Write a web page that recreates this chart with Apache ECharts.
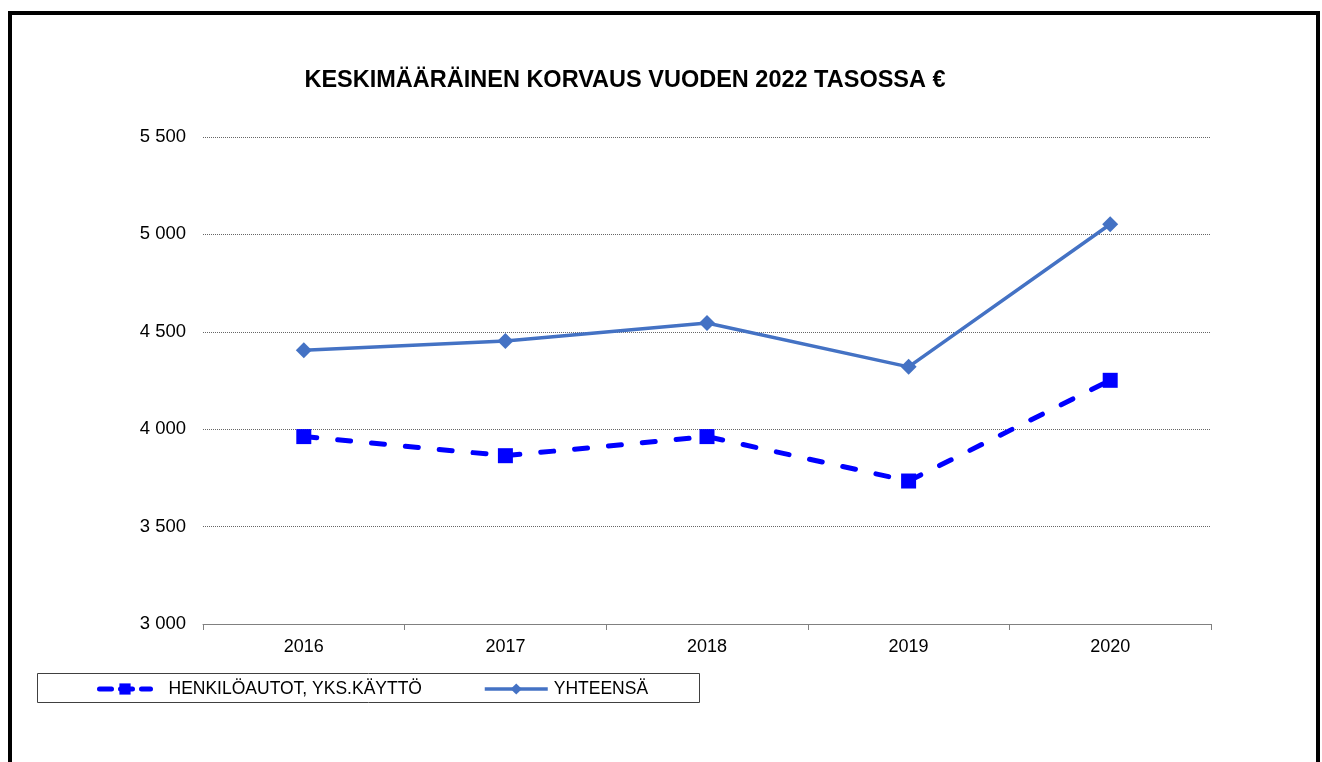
<!DOCTYPE html>
<html><head><meta charset="utf-8">
<script src="https://cdn.jsdelivr.net/npm/echarts@6/dist/echarts.min.js"></script>
<style>html,body{margin:0;padding:0;background:#fff}#c{width:1322px;height:762px}</style>
</head><body><div id="c"></div>
<script>
const categories = ['2016', '2017', '2018', '2019', '2020'];
const henkiloautot = [3962, 3864, 3962, 3734, 4251];
const yhteensa = [4405, 4453, 4545, 4320, 5052];
const seriesNames = ['HENKILÖAUTOT, YKS.KÄYTTÖ', 'YHTEENSÄ'];
const titleText = 'KESKIMÄÄRÄINEN KORVAUS VUODEN 2022 TASOSSA €';

const FONT = '"Liberation Sans", Arial, sans-serif';
const chart = echarts.init(document.getElementById('c'), null, {renderer: 'canvas'});
chart.setOption({
  backgroundColor: '#fff',
  animation: false,
  title: {
    text: titleText, left: 620, top: 64, textAlign: 'center',
    textStyle: {fontFamily: FONT, fontSize: 23.5, fontWeight: 'bold', color: '#000'}
  },
  graphic: [
    {type: 'rect', shape: {x: 10, y: 13, width: 1308, height: 800},
     style: {fill: 'none', stroke: '#000', lineWidth: 4}, z: 100},
    {type: 'rect', shape: {x: 37.5, y: 673.5, width: 662, height: 29},
     style: {fill: 'none', stroke: '#404040', lineWidth: 1}, z: 1}
  ],
  legend: [
    {data: [seriesNames[0]], left: 97, top: 680, padding: 0, itemWidth: 51, itemHeight: 14,
     lineStyle: {width: 5, type: [12, 9], cap: 'round'},
     textStyle: {fontFamily: FONT, fontSize: 17.5, color: '#000', padding: [0, 0, 0, 13]}},
    {data: [seriesNames[1]], left: 483, top: 680, padding: 0, itemWidth: 63, itemHeight: 14,
     lineStyle: {width: 3.5},
     textStyle: {fontFamily: FONT, fontSize: 17.5, color: '#000', padding: [0, 0, 0, 1]}}
  ],
  grid: {left: 203, right: 111, top: 137, bottom: 138, containLabel: false},
  xAxis: {
    type: 'category', data: categories, boundaryGap: true,
    axisLine: {lineStyle: {color: '#808080', width: 1}},
    axisTick: {show: true, length: 6, lineStyle: {color: '#808080'}},
    axisLabel: {fontFamily: FONT, fontSize: 18, color: '#000', margin: 14}
  },
  yAxis: {
    type: 'value', min: 3000, max: 5500, interval: 500,
    axisLine: {show: false}, axisTick: {show: false},
    axisLabel: {fontFamily: FONT, fontSize: 18.5, color: '#000', margin: 17,
      formatter: v => String(v).replace(/\B(?=(\d{3})+(?!\d))/g, ' ')},
    splitLine: {lineStyle: {color: '#666', type: [1, 1], width: 1}}
  },
  series: [
    {name: seriesNames[0], type: 'line', data: henkiloautot,
     symbol: 'rect', symbolSize: 15, itemStyle: {color: '#0000FF'},
     lineStyle: {color: '#0000FF', width: 5, type: [13, 21], cap: 'round'}},
    {name: seriesNames[1], type: 'line', data: yhteensa,
     symbol: 'diamond', symbolSize: 16, itemStyle: {color: '#4472C4'},
     lineStyle: {color: '#4472C4', width: 3.5}}
  ]
});
</script></body></html>
